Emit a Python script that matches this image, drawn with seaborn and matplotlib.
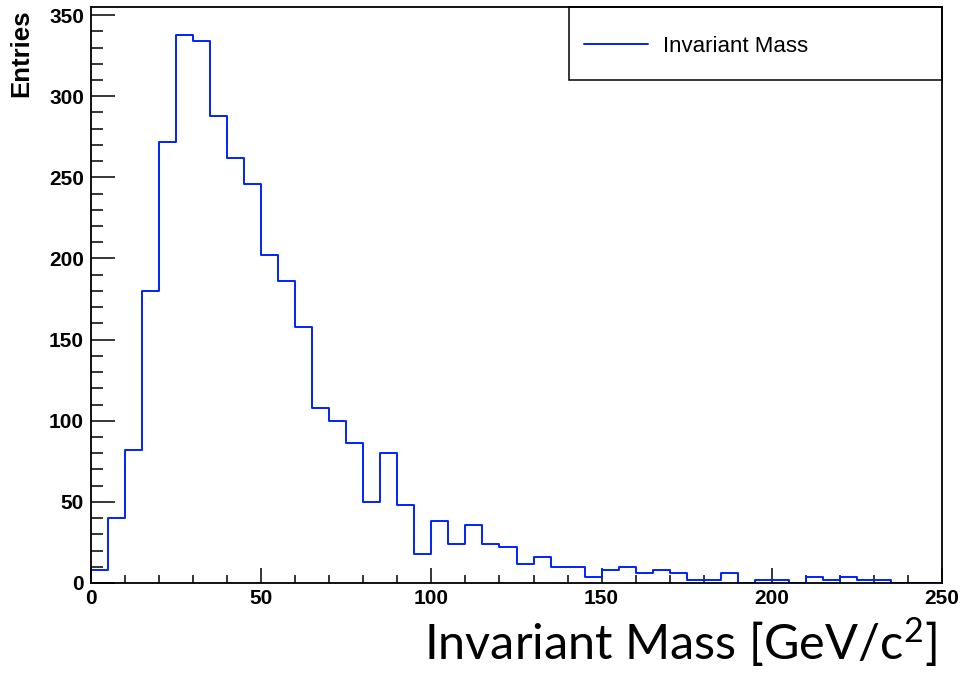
import numpy as np
import pandas as pd
import seaborn as sns
import matplotlib
matplotlib.use("Agg")
import matplotlib.pyplot as plt
from matplotlib.ticker import MultipleLocator
from matplotlib.patches import Rectangle

# ---- data ----
bin_edges = list(range(0, 255, 5))
counts = [8, 40, 82, 180, 272, 338, 334, 288, 262, 246,
          202, 186, 158, 108, 100, 86, 50, 80, 48, 18,
          38, 24, 36, 24, 22, 12, 16, 10, 10, 4,
          8, 10, 6, 8, 6, 2, 2, 6, 0, 2,
          2, 0, 4, 2, 4, 2, 2, 0, 0, 0]
x_ticks = [0, 50, 100, 150, 200, 250]
y_ticks = [0, 50, 100, 150, 200, 250, 300, 350]
series_name = "Invariant Mass"
x_title = r"Invariant Mass [GeV/c$^{2}$]"
y_title = "Entries"

centers = [(a + b) / 2 for a, b in zip(bin_edges[:-1], bin_edges[1:])]
df = pd.DataFrame({"mass": centers, "w": counts})

sns.set_style("ticks")
plt.rcParams["font.family"] = ["Liberation Sans", "DejaVu Sans"]
plt.rcParams["mathtext.fontset"] = "custom"
plt.rcParams["mathtext.rm"] = "Lato"
plt.rcParams["mathtext.it"] = "Lato"
plt.rcParams["text.color"] = "black"
plt.rcParams["axes.labelcolor"] = "black"
plt.rcParams["xtick.color"] = "black"
plt.rcParams["ytick.color"] = "black"

fig = plt.figure(figsize=(9.62, 6.73), dpi=100)
ax = fig.add_axes([91 / 962, 1 - 583 / 673, (942 - 91) / 962, (583 - 7) / 673])

sns.histplot(data=df, x="mass", weights="w", bins=bin_edges, element="step",
             fill=False, color="#0022ff", linewidth=1.4, ax=ax, label=series_name)

ax.set_xlim(0, 250)
ax.set_ylim(0, 355)
ax.set_xticks(x_ticks)
ax.set_yticks(y_ticks)
ax.xaxis.set_minor_locator(MultipleLocator(10))
ax.yaxis.set_minor_locator(MultipleLocator(10))
ax.tick_params(axis="x", which="major", direction="in", length=11, width=1.1,
               labelsize=15, pad=4, colors="black")
ax.tick_params(axis="x", which="minor", direction="in", length=5.5, width=1.1, colors="black")
ax.tick_params(axis="y", which="major", direction="in", length=17.5, width=1.1,
               labelsize=15, pad=5, colors="black")
ax.tick_params(axis="y", which="minor", direction="in", length=8.7, width=1.1, colors="black")
for lab in ax.get_xticklabels() + ax.get_yticklabels():
    lab.set_fontweight("bold")
for s in ax.spines.values():
    s.set_visible(True)
    s.set_linewidth(1.3)
    s.set_color("black")

ax.set_ylabel(y_title, loc="top", fontsize=18.5, fontweight="bold", color="black")
ax.yaxis.set_label_coords(-0.068, 0.995)
ax.set_xlabel(x_title, loc="right", fontsize=35, fontfamily="Lato", color="black")
ax.xaxis.set_label_coords(0.994, -0.056)

# legend box (ROOT TLegend style)
fig.patches.append(Rectangle((569 / 962, 1 - 80 / 673), (942 - 569) / 962, 73 / 673,
                             transform=fig.transFigure, fill=False, edgecolor="black",
                             linewidth=1.1, zorder=5))
leg = ax.legend(loc="center left", bbox_to_anchor=(569 / 962, 1 - 46.5 / 673),
                bbox_transform=fig.transFigure, borderaxespad=0,
                fontsize=16, handlelength=2.88, handletextpad=0.68, borderpad=0.68,
                frameon=False, labelcolor="black")

fig.savefig("out.png", dpi=100, facecolor="white")
